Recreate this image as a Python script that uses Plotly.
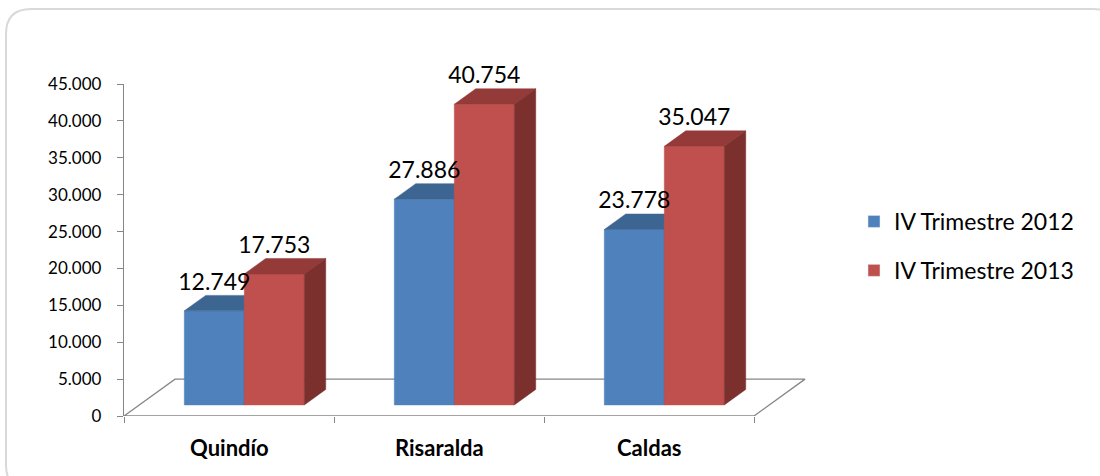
import plotly.graph_objects as go

# Data
categories = ["Quindío", "Risaralda", "Caldas"]
series_names = ["IV Trimestre 2012", "IV Trimestre 2013"]
values_2012 = [12749, 27886, 23778]
values_2013 = [17753, 40754, 35047]
y_ticks = [0, 5000, 10000, 15000, 20000, 25000, 30000, 35000, 40000, 45000]

# Styling
FRONT = ["#4F81BD", "#C0504D"]
TOP = ["#3D6592", "#943A38"]
SIDE = ["#355A85", "#7B302E"]
AXIS_GRAY = "#868686"
FONT = "Lato, sans-serif"

# Oblique projection: a depth of d value-units moves a point up by d
# and right by d * X_PER_DEPTH category units.
W, H = 1100, 476
PX_PER_CAT = 210
PLOT_LEFT, PLOT_RIGHT = 124, 840
PLOT_TOP, PLOT_BOTTOM = 84, 416
FLOOR_DEPTH = 5000
X_PER_DEPTH = (51 / PX_PER_CAT) / FLOOR_DEPTH
BAR_Z = 1500          # depth of bar front faces
BAR_D = 2100          # bar depth
BAR_W = 60 / PX_PER_CAT
YMAX = 45000

x_range = [0, (PLOT_RIGHT - PLOT_LEFT) / PX_PER_CAT]
n = len(categories)

fig = go.Figure()

# Floor outline (front edge doubles as the category axis line)
fx = FLOOR_DEPTH * X_PER_DEPTH
fig.add_trace(go.Scatter(
    x=[0, n, n + fx, fx, 0], y=[0, 0, FLOOR_DEPTH, FLOOR_DEPTH, 0],
    mode="lines", line=dict(color=AXIS_GRAY, width=1.3),
    hoverinfo="skip", showlegend=False))


def poly(xs, ys, color):
    fig.add_trace(go.Scatter(
        x=xs + [xs[0]], y=ys + [ys[0]], mode="lines", fill="toself",
        fillcolor=color, line=dict(color=color, width=0.5),
        hoverinfo="skip", showlegend=False))


label_x, label_y, label_txt = [], [], []
shift = BAR_Z * X_PER_DEPTH
dxd = BAR_D * X_PER_DEPTH
for i in range(n):
    center = i + 0.5 + shift
    for s, vals in enumerate([values_2012, values_2013]):
        v = vals[i]
        xl = center - BAR_W + s * BAR_W
        xr = xl + BAR_W
        y0 = BAR_Z
        y1 = BAR_Z + v
        # front face
        poly([xl, xr, xr, xl], [y0, y0, y1, y1], FRONT[s])
        # top face
        poly([xl, xr, xr + dxd, xl + dxd], [y1, y1, y1 + BAR_D, y1 + BAR_D], TOP[s])
        # right side face
        poly([xr, xr + dxd, xr + dxd, xr], [y0, y0 + BAR_D, y1 + BAR_D, y1], SIDE[s])
        label_x.append((xl + xr) / 2)
        label_y.append(y1 + BAR_D)
        label_txt.append(f"{v:,}".replace(",", "."))

# Value labels
fig.add_trace(go.Scatter(
    x=label_x, y=label_y, text=label_txt, mode="text",
    textposition="top center", textfont=dict(family=FONT, size=23, color="#000000"),
    cliponaxis=False, hoverinfo="skip", showlegend=False))

# Legend entries
for s, name in enumerate(series_names):
    fig.add_trace(go.Bar(x=[None], y=[None], name=name, marker_color=FRONT[s],
                         legendgroup=name))

# Category labels
for i, c in enumerate(categories):
    fig.add_annotation(x=i + 0.5, y=0, xref="x", yref="y", text=f"<b>{c}</b>",
                       showarrow=False, yshift=-31, yanchor="middle",
                       font=dict(family=FONT, size=22, color="#000000"))

# Outer rounded frame
r = 25
x0, y0p, x1, y1p = 6, 9, 1118, 490
def px(xv):
    return xv / W
def py(yv):
    return 1 - yv / H
path = (f"M {px(x0 + r)},{py(y0p)} L {px(x1 - r)},{py(y0p)} "
        f"Q {px(x1)},{py(y0p)} {px(x1)},{py(y0p + r)} L {px(x1)},{py(y1p - r)} "
        f"Q {px(x1)},{py(y1p)} {px(x1 - r)},{py(y1p)} L {px(x0 + r)},{py(y1p)} "
        f"Q {px(x0)},{py(y1p)} {px(x0)},{py(y1p - r)} L {px(x0)},{py(y0p + r)} "
        f"Q {px(x0)},{py(y0p)} {px(x0 + r)},{py(y0p)} Z")
fig.add_shape(type="path", path=path, xref="paper", yref="paper",
              line=dict(color="#D9D9D9", width=2))

fig.update_layout(
    width=W, height=H,
    margin=dict(l=0, r=0, t=0, b=0, autoexpand=False),
    paper_bgcolor="white", plot_bgcolor="rgba(0,0,0,0)",
    separators=",.",
    font=dict(family=FONT, color="#000000"),
    showlegend=True,
    legend=dict(x=854 / W, y=1 - 200 / H, xanchor="left", yanchor="top",
                font=dict(family=FONT, size=23, color="#000000"),
                traceorder="grouped", tracegroupgap=16,
                bgcolor="rgba(0,0,0,0)", itemwidth=30),
    xaxis=dict(domain=[PLOT_LEFT / W, PLOT_RIGHT / W], range=x_range,
               automargin=False,
               showgrid=False, zeroline=False, showline=False,
               tickvals=list(range(n + 1)), ticktext=[""] * (n + 1),
               ticks="outside", ticklen=6, tickcolor=AXIS_GRAY, tickwidth=1.3),
    yaxis=dict(domain=[1 - PLOT_BOTTOM / H, 1 - PLOT_TOP / H], range=[0, YMAX],
               automargin=False,
               showgrid=False, zeroline=False, showline=True,
               linecolor=AXIS_GRAY, linewidth=1.3,
               tickvals=y_ticks, tickformat=",d",
               ticks="outside", ticklen=6, tickcolor=AXIS_GRAY, tickwidth=1.3,
               ticklabelstandoff=12,
               tickfont=dict(family=FONT, size=17, color="#000000")),
)

fig.write_html("out.html")
